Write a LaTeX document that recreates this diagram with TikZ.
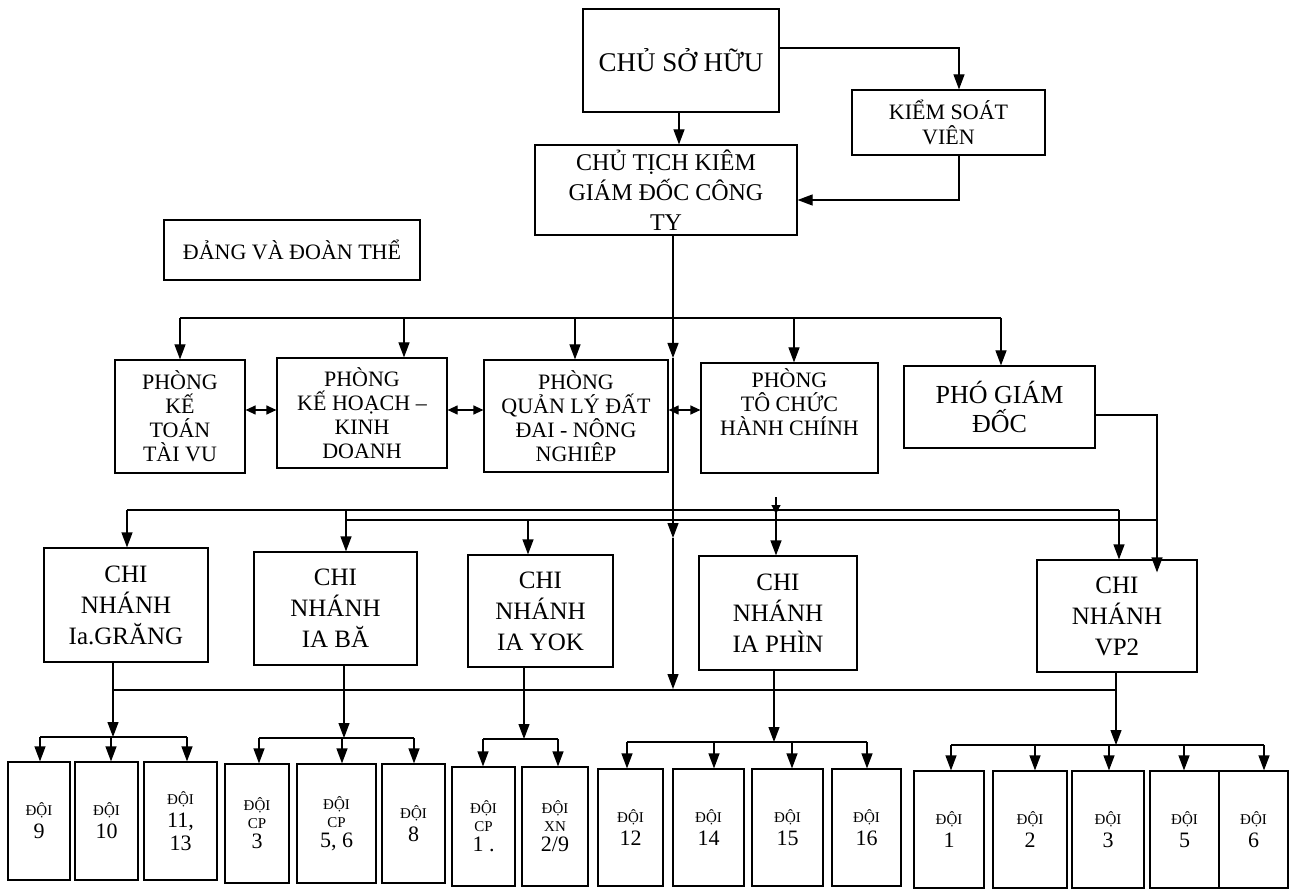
\documentclass[tikz,border=0pt]{standalone}
\usepackage{fontspec}
\setmainfont{Liberation Serif}
\usetikzlibrary{arrows.meta,calc}
\newcommand\doisz{\fontsize{15}{23}\selectfont}
\begin{document}
\begin{tikzpicture}[x=1pt,y=-1pt,
  box/.style={draw, line width=1.2pt, inner sep=0pt, align=center, rectangle},
  ln/.style={line width=1.2pt},
  arr/.style={line width=1.2pt, -{Triangle[length=15pt,width=11pt]}},
  sarr/.style={line width=1.2pt, -{Triangle[length=9pt,width=9pt]}},
  darr/.style={line width=1.2pt, {Triangle[length=10pt,width=9pt]}-{Triangle[length=10pt,width=9pt]}},
  team/.style={box, font=\fontsize{22}{23}\selectfont},
  phong/.style={box, font=\fontsize{22}{24}\selectfont},
  cn/.style={box, font=\fontsize{25}{31}\selectfont},
]
\useasboundingbox (0,0) rectangle (1291,890);

% top level
\node[box, minimum width=196pt, minimum height=103pt, font=\fontsize{27}{30}\selectfont] (csh) at (681,60.5) {CHỦ SỞ HỮU};
\node[box, minimum width=193pt, minimum height=65pt, font=\fontsize{22}{25}\selectfont] (ksv) at (948.5,122.5) {KIỂM SOÁT\\VIÊN};
\node[box, minimum width=262pt, minimum height=90pt, font=\fontsize{24}{30}\selectfont] (ct) at (666,190) {CHỦ TỊCH KIÊM\\GIÁM ĐỐC CÔNG\\TY};
\node[box, minimum width=256pt, minimum height=60pt, font=\fontsize{22}{24}\selectfont] (dang) at (292,250) {ĐẢNG VÀ ĐOÀN THỂ};

% phong row
\node[phong, minimum width=130pt, minimum height=113pt] (pkt) at (180,416.5) {PHÒNG\\KẾ\\TOÁN\\TÀI VU};
\node[phong, minimum width=170pt, minimum height=110pt] (pkh) at (362,413) {PHÒNG\\KẾ HOẠCH –\\KINH\\DOANH};
\node[phong, minimum width=184pt, minimum height=112pt] (pql) at (576,416) {PHÒNG\\QUẢN LÝ ĐẤT\\ĐAI - NÔNG\\NGHIÊP};
\node[phong, minimum width=177pt, minimum height=110pt, text depth=31pt] (ptc) at (789.5,418) {PHÒNG\\TÔ CHỨC\\HÀNH CHÍNH};
\node[box, minimum width=191pt, minimum height=82pt, font=\fontsize{26}{29}\selectfont] (pgd) at (999.5,407) {PHÓ GIÁM\\ĐỐC};

% chi nhanh row
\node[cn, minimum width=164pt, minimum height=114pt] (cn1) at (126,605) {CHI\\NHÁNH\\Ia.GRĂNG};
\node[cn, minimum width=163pt, minimum height=113pt] (cn2) at (335.5,608.5) {CHI\\NHÁNH\\IA BĂ};
\node[cn, minimum width=145pt, minimum height=112pt] (cn3) at (540.5,611) {CHI\\NHÁNH\\IA YOK};
\node[cn, minimum width=158pt, minimum height=114pt] (cn4) at (778,613) {CHI\\NHÁNH\\IA PHÌN};
\node[cn, minimum width=160pt, minimum height=112pt] (cn5) at (1117,616) {CHI\\NHÁNH\\VP2};

% teams
\node[team, minimum width=62pt, minimum height=118pt] (d9) at (39,821) {{\doisz ĐỘI}\\9};
\node[team, minimum width=63pt, minimum height=118pt] (d10) at (106.5,821) {{\doisz ĐỘI}\\10};
\node[team, minimum width=73pt, minimum height=118pt] (d1113) at (180.5,821) {{\doisz ĐỘI}\\11,\\13};
\node[team, minimum width=64pt, minimum height=119pt] (cp3) at (257,823.5) {{\doisz ĐỘI}\\[-5pt]{\doisz CP}\\[-3pt]3};
\node[team, minimum width=79pt, minimum height=119pt] (cp56) at (336.5,823.5) {{\doisz ĐỘI}\\[-5pt]{\doisz CP}\\[-3pt]5, 6};
\node[team, minimum width=63pt, minimum height=119pt] (d8) at (413.5,823.5) {{\doisz ĐỘI}\\8};
\node[team, minimum width=63pt, minimum height=119pt] (cp1) at (483.5,826.5) {{\doisz ĐỘI}\\[-5pt]{\doisz CP}\\[-3pt]1 .};
\node[team, minimum width=66pt, minimum height=119pt] (xn) at (555,826.5) {{\doisz ĐỘI}\\[-5pt]{\doisz XN}\\[-3pt]2/9};
\node[team, minimum width=65pt, minimum height=117pt] (d12) at (630.5,827.5) {{\doisz ĐỘI}\\12};
\node[team, minimum width=71pt, minimum height=117pt] (d14) at (708.5,827.5) {{\doisz ĐỘI}\\14};
\node[team, minimum width=71pt, minimum height=117pt] (d15) at (787.5,827.5) {{\doisz ĐỘI}\\15};
\node[team, minimum width=69pt, minimum height=117pt] (d16) at (866.5,827.5) {{\doisz ĐỘI}\\16};
\node[team, minimum width=70pt, minimum height=117pt] (d1) at (949,829.5) {{\doisz ĐỘI}\\1};
\node[team, minimum width=74pt, minimum height=117pt] (d2) at (1030,829.5) {{\doisz ĐỘI}\\2};
\node[team, minimum width=72pt, minimum height=117pt] (d3) at (1108,829.5) {{\doisz ĐỘI}\\3};
\node[team, minimum width=69pt, minimum height=117pt] (d5) at (1184.5,829.5) {{\doisz ĐỘI}\\5};
\node[team, minimum width=69pt, minimum height=117pt] (d6) at (1253.5,829.5) {{\doisz ĐỘI}\\6};

% top connectors
\draw[arr] (csh.south -| 679,0) -- (ct.north -| 679,0);
\draw[arr] (csh.east |- 0,48) -| (ksv.north -| 959,0);
\draw[arr] (ksv.south -| 959,0) |- (ct.east |- 0,200);

% trunk from CT
\coordinate (t1) at (673,358);
\coordinate (t2) at (673,538);
\coordinate (t3) at (673,689);
\draw[arr] (ct.south -| 673,0) -- (t1);
\draw[arr] (t1) -- (t2);
\draw[arr] (t2) -- (t3);

% phong bus
\coordinate (pbL) at (180,318);
\coordinate (pbR) at (1001,318);
\draw[ln] (pbL) -- (pbR);
\draw[arr] (pbL) -- (pkt.north);
\draw[arr] (404,318) -- (pkh.north -| 404,0);
\draw[arr] (575,318) -- (pql.north -| 575,0);
\draw[arr] (794,318) -- (ptc.north -| 794,0);
\draw[arr] (pbR) -- (pgd.north -| 1001,0);
\draw[darr] (pkt.east |- 0,410) -- (pkh.west |- 0,410);
\draw[darr] (pkh.east |- 0,410) -- (pql.west |- 0,410);
\draw[darr] (pql.east |- 0,410) -- (ptc.west |- 0,410);

% PGD to VP2
\draw[arr] (pgd.east |- 0,415) -| ($(cn5.north -| 1157,0)+(0,13)$);

% chi nhanh buses
\coordinate (ubL) at (127,510);
\coordinate (ubR) at (1119,510);
\coordinate (lbL) at (346,520);
\coordinate (lbR) at (1157,520);
\draw[ln] (ubL) -- (ubR);
\draw[ln] (lbL) -- (lbR);
\draw[arr] (ubL) -- (cn1.north -| 127,0);
\draw[arr] (346,510) -- (cn2.north -| 346,0);
\draw[arr] (528,520) -- (cn3.north -| 528,0);
\draw[arr] (776,510) -- (cn4.north -| 776,0);
\draw[arr] (ubR) -- (cn5.north -| 1119,0);
\coordinate (stub) at (776,497);
\draw[sarr] (stub) -- (776,514);

% bottom bus
\draw[ln] (113,690) -- (1116,690);
\draw[arr] (cn1.south -| 113,0) -- (113,737);
\draw[arr] (cn2.south -| 344,0) -- (344,738);
\draw[arr] (cn3.south -| 524,0) -- (524,739);
\draw[arr] (cn4.south -| 774,0) -- (774,742);
\draw[arr] (cn5.south -| 1116,0) -- (1116,745);

% team buses
\draw[ln] (40,737) -- (187,737);
\draw[arr] (40,737) -- (d9.north -| 40,0);
\draw[arr] (111,737) -- (d10.north -| 111,0);
\draw[arr] (187,737) -- (d1113.north -| 187,0);

\draw[ln] (259,738) -- (414,738);
\draw[arr] (259,738) -- (cp3.north -| 259,0);
\draw[arr] (342,738) -- (cp56.north -| 342,0);
\draw[arr] (414,738) -- (d8.north -| 414,0);

\draw[ln] (483,739) -- (558,739);
\draw[arr] (483,739) -- (cp1.north -| 483,0);
\draw[arr] (558,739) -- (xn.north -| 558,0);

\draw[ln] (627,742) -- (867,742);
\draw[arr] (627,742) -- (d12.north -| 627,0);
\draw[arr] (714,742) -- (d14.north -| 714,0);
\draw[arr] (792,742) -- (d15.north -| 792,0);
\draw[arr] (867,742) -- (d16.north -| 867,0);

\draw[ln] (951,745) -- (1264,745);
\draw[arr] (951,745) -- (d1.north -| 951,0);
\draw[arr] (1035,745) -- (d2.north -| 1035,0);
\draw[arr] (1109,745) -- (d3.north -| 1109,0);
\draw[arr] (1184,745) -- (d5.north -| 1184,0);
\draw[arr] (1264,745) -- (d6.north -| 1264,0);
\end{tikzpicture}
\end{document}
